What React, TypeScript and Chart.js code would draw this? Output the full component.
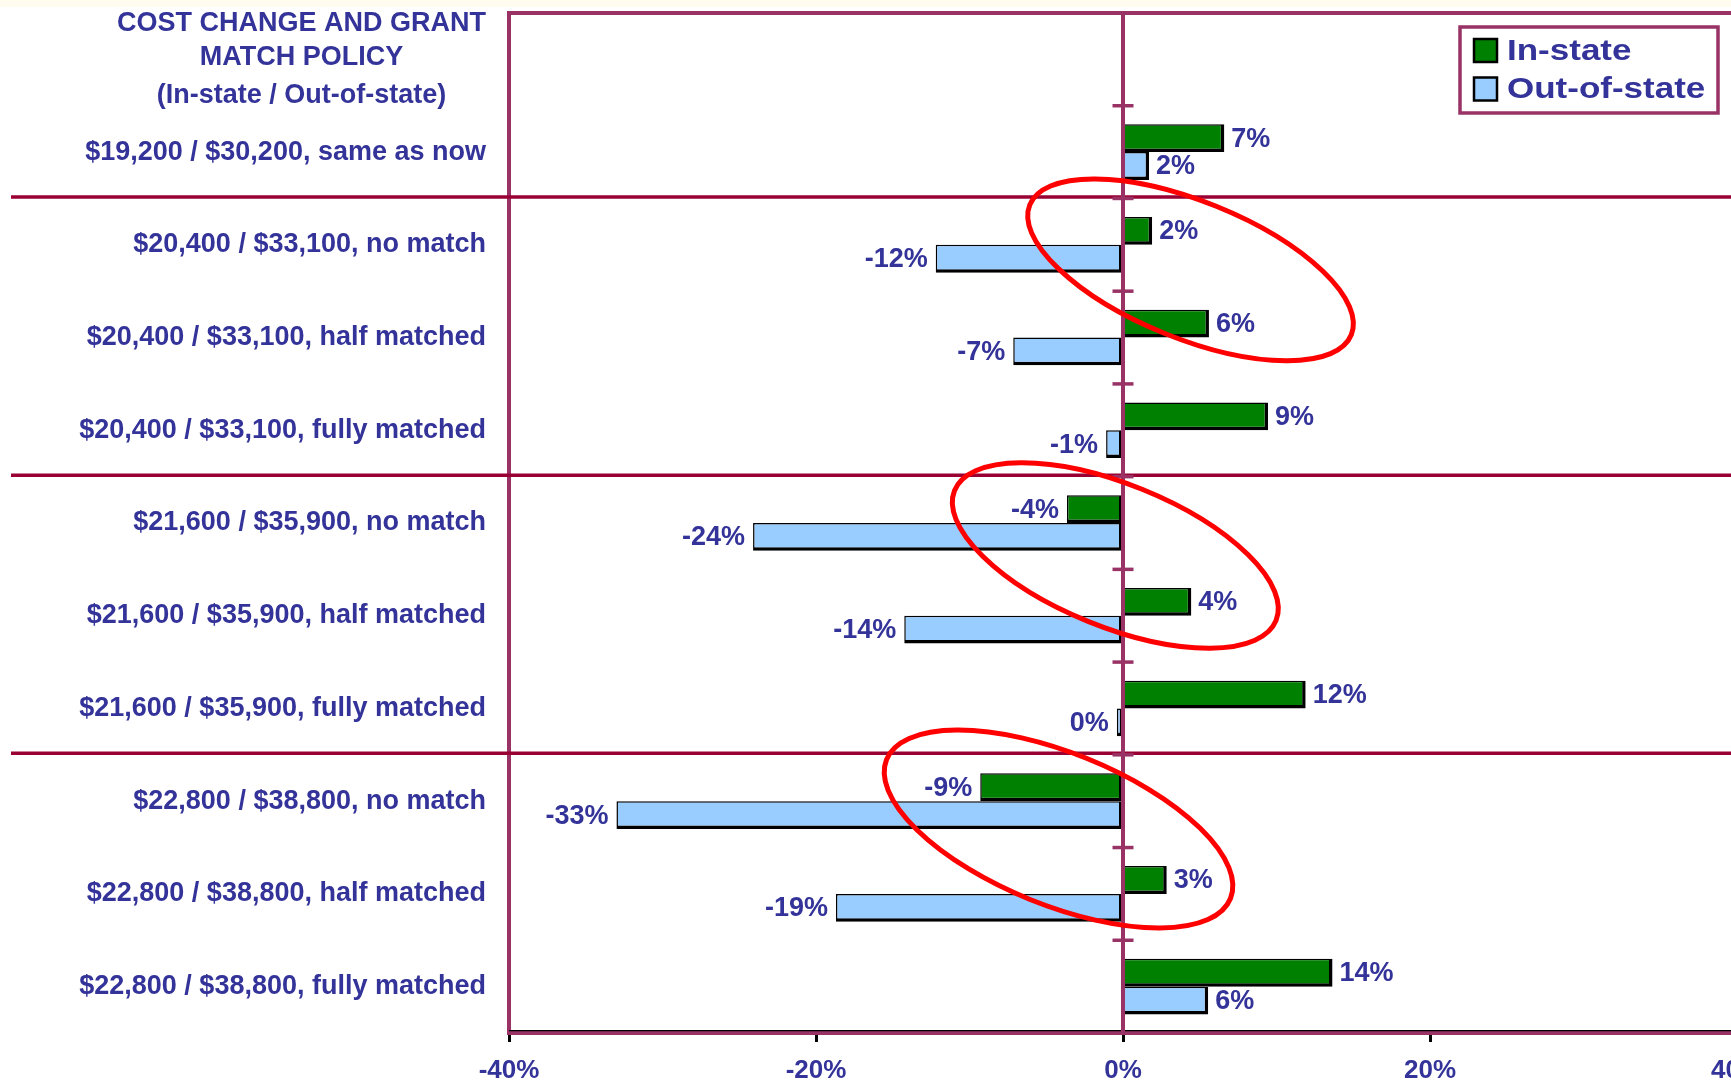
import React, { useEffect, useRef } from 'react';
import { Chart, registerables } from 'chart.js';

Chart.register(...registerables);

// ---------- data ----------
const headerLines = ['COST CHANGE AND GRANT', 'MATCH POLICY', '(In-state / Out-of-state)'];

const categories = [
  '',
  '$19,200 / $30,200, same as now',
  '$20,400 / $33,100, no match',
  '$20,400 / $33,100, half matched',
  '$20,400 / $33,100, fully matched',
  '$21,600 / $35,900, no match',
  '$21,600 / $35,900, half matched',
  '$21,600 / $35,900, fully matched',
  '$22,800 / $38,800, no match',
  '$22,800 / $38,800, half matched',
  '$22,800 / $38,800, fully matched',
];

const seriesNames = ['In-state', 'Out-of-state'];
const inState = [null, 6.6, 1.9, 5.6, 9.45, -3.65, 4.45, 11.9, -9.3, 2.85, 13.65];
const outOfState = [null, 1.7, -12.2, -7.15, -1.1, -24.1, -14.25, -0.4, -33.0, -18.7, 5.55];

const xMin = -40;
const xMax = 40;
const xStep = 20;

// categories that start a new group (separator line drawn above them)
const groupStarts = [2, 5, 8];

// red highlight ellipses (value on x, category position on y, radii in category bands)
const highlightValues = [4.4, -0.5, -4.2];
const highlightCategories = [2.27, 5.35, 8.3];
const highlightRx = [1.87, 1.87, 2.0];
const highlightRy = [0.74, 0.77, 0.82];
const highlightAngleDeg = 22;

// ---------- style ----------
const FONT = "'Liberation Sans', Arial, Helvetica, sans-serif";
const TEXT = '#333399';
const FRAME = '#993366';
const SEP = '#990033';
const GREEN = '#008000';
const BLUE = '#99CCFF';
const CANVAS_W = 1800;
const CANVAS_H = 1084;

const fmtPct = (v: number) => `${Math.round(v) || 0}%`;

const decorPlugin = {
  id: 'decor',
  beforeDraw(chart: any) {
    const { ctx, width, height } = chart;
    ctx.save();
    ctx.fillStyle = '#ffffff';
    ctx.fillRect(0, 0, width, height);
    ctx.fillStyle = '#FFFCEF';
    ctx.fillRect(0, 0, width, 7);
    ctx.restore();
  },
  afterDatasetsDraw(chart: any) {
    const { ctx, chartArea: ca } = chart;
    const x = chart.scales.x;
    const y = chart.scales.y;
    const band = y.getPixelForValue(1) - y.getPixelForValue(0);
    const line = (x1: number, y1: number, x2: number, y2: number) => {
      ctx.beginPath();
      ctx.moveTo(x1, y1);
      ctx.lineTo(x2, y2);
      ctx.stroke();
    };
    ctx.save();

    // group separators
    ctx.strokeStyle = SEP;
    ctx.lineWidth = 3.5;
    groupStarts.forEach((i) => {
      const py = y.getPixelForValue(i - 0.5) - 1.5;
      line(11, py, chart.width, py);
    });

    // top frame line
    ctx.strokeStyle = FRAME;
    ctx.lineWidth = 4;
    line(ca.left - 2, ca.top, chart.width, ca.top);

    // thin black line on top of bottom axis
    ctx.strokeStyle = '#000';
    ctx.lineWidth = 1.2;
    line(ca.left, ca.bottom - 2.4, chart.width, ca.bottom - 2.4);

    // zero axis
    const x0 = x.getPixelForValue(0);
    ctx.strokeStyle = FRAME;
    ctx.lineWidth = 4;
    line(x0, ca.top, x0, ca.bottom);
    ctx.lineWidth = 3.5;
    for (let i = 1; i < categories.length; i++) {
      const py = y.getPixelForValue(i - 0.5);
      line(x0 - 10.5, py, x0 + 10.5, py);
    }

    // data labels
    ctx.fillStyle = TEXT;
    ctx.font = `bold 27px ${FONT}`;
    ctx.textBaseline = 'middle';
    chart.data.datasets.forEach((ds: any, di: number) => {
      const meta = chart.getDatasetMeta(di);
      meta.data.forEach((el: any, i: number) => {
        const v = ds.data[i];
        if (v === null || v === undefined) return;
        const txt = fmtPct(v);
        if (v >= 0) {
          ctx.textAlign = 'left';
          ctx.fillText(txt, el.x + 7, el.y + 1);
        } else {
          ctx.textAlign = 'right';
          ctx.fillText(txt, el.x - 8, el.y + 1);
        }
      });
    });

    // highlight ellipses
    ctx.strokeStyle = '#FF0000';
    ctx.lineWidth = 5;
    highlightValues.forEach((hv, k) => {
      const cx = x.getPixelForValue(hv);
      const cy = y.getPixelForValue(highlightCategories[k]);
      ctx.beginPath();
      ctx.ellipse(cx, cy, highlightRx[k] * band, highlightRy[k] * band, (highlightAngleDeg * Math.PI) / 180, 0, Math.PI * 2);
      ctx.stroke();
    });

    // header (category-axis title)
    ctx.fillStyle = TEXT;
    ctx.font = `bold 27px ${FONT}`;
    ctx.textAlign = 'center';
    ctx.textBaseline = 'middle';
    const w1 = ctx.measureText(headerLines[0]).width;
    const hx = ca.left - 23 - w1 / 2;
    const hy = y.getPixelForValue(0);
    const offs = [-36, -2, 36];
    headerLines.forEach((t, i) => ctx.fillText(t, hx, hy + offs[i]));

    // legend
    const bl = ca.right - 277;
    const bt = ca.top + 14;
    const bw = 258;
    const bh = 86;
    ctx.fillStyle = '#fff';
    ctx.fillRect(bl, bt, bw, bh);
    ctx.strokeStyle = FRAME;
    ctx.lineWidth = 3.5;
    ctx.strokeRect(bl, bt, bw, bh);
    const colors = [GREEN, BLUE];
    const rowY = [bt + 23.5, bt + 62];
    seriesNames.forEach((name, i) => {
      const sx = bl + 14;
      const sy = rowY[i] - 11.5;
      ctx.fillStyle = colors[i];
      ctx.fillRect(sx, sy, 23, 23);
      ctx.strokeStyle = '#000';
      ctx.lineWidth = 2.5;
      ctx.strokeRect(sx, sy, 23, 23);
      ctx.save();
      ctx.translate(bl + 47, rowY[i] + 1);
      ctx.scale(1.25, 1.05);
      ctx.fillStyle = TEXT;
      ctx.font = `bold 28px ${FONT}`;
      ctx.textAlign = 'left';
      ctx.textBaseline = 'middle';
      ctx.fillText(name, 0, 0);
      ctx.restore();
    });

    ctx.restore();
  },
};

export default function App() {
  const ref = useRef<HTMLCanvasElement>(null);

  useEffect(() => {
    if (!ref.current) return;
    const barBorder = { top: 1.5, left: 1.5, right: 3.5, bottom: 3.5 };
    const chart = new Chart(ref.current, {
      type: 'bar',
      data: {
        labels: categories,
        datasets: [
          {
            label: seriesNames[0],
            data: inState,
            backgroundColor: GREEN,
            borderColor: '#000',
            borderWidth: barBorder,
            borderSkipped: false,
            categoryPercentage: 0.6,
            barPercentage: 1,
          },
          {
            label: seriesNames[1],
            data: outOfState,
            backgroundColor: BLUE,
            borderColor: '#000',
            borderWidth: barBorder,
            borderSkipped: false,
            categoryPercentage: 0.6,
            barPercentage: 1,
          },
        ],
      } as any,
      options: {
        indexAxis: 'y',
        animation: false,
        responsive: false,
        devicePixelRatio: 1,
        layout: { padding: { top: 13, right: CANVAS_W - 1737, left: 0, bottom: 0 } },
        plugins: {
          legend: { display: false },
          tooltip: { enabled: false },
          title: { display: false },
        },
        scales: {
          x: {
            type: 'linear',
            position: 'bottom',
            min: xMin,
            max: xMax,
            ticks: {
              stepSize: xStep,
              autoSkip: false,
              maxRotation: 0,
              padding: 13,
              color: TEXT,
              font: { family: FONT, size: 26, weight: 'bold' },
              callback: (v: any) => `${v}%`,
            },
            grid: {
              drawOnChartArea: false,
              drawTicks: true,
              tickLength: 9,
              tickColor: '#000',
              tickWidth: 3,
            },
            border: { display: true, color: FRAME, width: 4 },
            afterFit: (s: any) => {
              s.height = 51;
              s.paddingLeft = 0;
              s.paddingRight = 0;
            },
          },
          y: {
            type: 'category',
            offset: true,
            ticks: {
              autoSkip: false,
              padding: 23,
              color: TEXT,
              font: { family: FONT, size: 27, weight: 'bold' },
            },
            grid: { display: false, drawTicks: false },
            border: { display: true, color: FRAME, width: 4 },
            afterFit: (s: any) => {
              s.width = 509;
              s.paddingTop = 0;
              s.paddingBottom = 0;
            },
          },
        },
      } as any,
      plugins: [decorPlugin],
    });
    return () => chart.destroy();
  }, []);

  return (
    <div
      style={{
        position: 'fixed',
        left: 0,
        top: 0,
        width: 1731,
        height: 1084,
        overflow: 'hidden',
        background: '#fff',
      }}
    >
      <canvas
        ref={ref}
        width={CANVAS_W}
        height={CANVAS_H}
        style={{ display: 'block', width: CANVAS_W, height: CANVAS_H }}
      />
    </div>
  );
}
